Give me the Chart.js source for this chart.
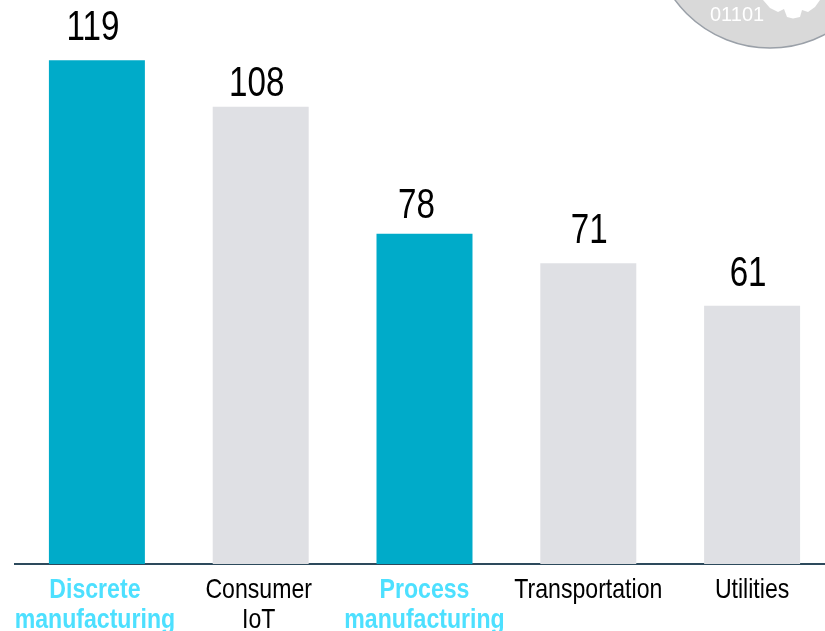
<!DOCTYPE html>
<html>
<head>
<meta charset="utf-8">
<style>
    html, body { margin: 0; padding: 0; background: #fff; overflow: hidden; }
    canvas { display: block; }
</style>
<script src="https://cdn.jsdelivr.net/npm/chart.js@4/dist/chart.umd.min.js"></script>
</head>
<body>
<canvas id="sectors" width="834" height="631"></canvas>
<script>
// Data
const categories = [["Discrete", "manufacturing"], ["Consumer", "IoT"], ["Process", "manufacturing"], ["Transportation"], ["Utilities"]];
const values = [119, 108, 78, 71, 61];
const highlighted = [true, false, true, false, false];
const badgeText = "01101";

// Style
const fontFamily = "'Liberation Sans', Arial, sans-serif";
const labelShiftX = [-4, -4, -8, 1, -4];
const labelShiftY = [-20, -11, -16, -20, -20];
const tickShiftX = [-2, -2, 0, 0, 0];
const gearOutline = [[763, 0], [770, 8], [778, 12], [784, 9], [787, 17], [793, 18.5], [800, 17], [802, 10], [808, 12], [815, 7], [820, 0]];

// Squeezed text, the source uses a condensed face
const drawNarrowText = (ctx, text, x, y, squeeze) => {
    ctx.save();
    ctx.translate(x, y);
    ctx.scale(squeeze, 1);
    ctx.fillText(text, 0, 0);
    ctx.restore();
}

// Plugins
const valueLabels = {
    id: "valueLabels",
    afterDatasetsDraw(chart) {
        const ctx = chart.ctx;
        ctx.save();
        ctx.fillStyle = "#000";
        ctx.font = "42px " + fontFamily;
        ctx.textAlign = "center";
        ctx.textBaseline = "alphabetic";
        chart.getDatasetMeta(0).data.forEach((bar, i) => {
            drawNarrowText(ctx, values[i], bar.x + labelShiftX[i], bar.y + labelShiftY[i], 0.79);
        });
        ctx.restore();
    }
};

const categoryLabels = {
    id: "categoryLabels",
    afterDraw(chart) {
        const ctx = chart.ctx;
        const xScale = chart.scales.x;
        ctx.save();
        ctx.textAlign = "center";
        ctx.textBaseline = "alphabetic";
        categories.forEach((lines, i) => {
            ctx.fillStyle = highlighted[i] ? "#4de0ff" : "#000";
            ctx.font = (highlighted[i] ? "bold " : "") + "28px " + fontFamily;
            lines.forEach((line, l) => {
                drawNarrowText(ctx, line, xScale.getPixelForTick(i) + tickShiftX[i], 598 + l * 30, 0.825);
            });
        });
        ctx.restore();
    }
};

const badge = {
    id: "badge",
    afterDraw(chart) {
        const ctx = chart.ctx;
        ctx.save();
        ctx.beginPath();
        ctx.arc(770, -70, 118, 0, Math.PI * 2);
        ctx.fillStyle = "#d9d9d9";
        ctx.fill();
        ctx.strokeStyle = "#9aa0a8";
        ctx.lineWidth = 1.5;
        ctx.stroke();

        // gear
        ctx.fillStyle = "#fff";
        ctx.beginPath();
        gearOutline.forEach(([x, y], i) => i ? ctx.lineTo(x, y) : ctx.moveTo(x, y));
        ctx.closePath();
        ctx.fill();

        ctx.fillStyle = "#fff";
        ctx.font = "20px " + fontFamily;
        ctx.textAlign = "left";
        ctx.textBaseline = "alphabetic";
        ctx.fillText(badgeText, 710, 21);
        ctx.restore();
    }
};

// Chart
new Chart(document.querySelector("#sectors"), {
    type: "bar",
    data: {
        labels: categories,
        datasets: [{
            data: values,
            backgroundColor: highlighted.map(h => h ? "#00abc9" : "#dfe0e4"),
            categoryPercentage: 1,
            barPercentage: 0.586
        }]
    },
    options: {
        responsive: false,
        animation: false,
        layout: { padding: { left: 15, right: 0, top: 0, bottom: 0 } },
        plugins: { legend: { display: false }, tooltip: { enabled: false } },
        scales: {
            x: {
                afterFit: scale => { scale.height = 67; },
                grid: { display: false, drawTicks: false },
                border: { display: true, color: "#2d4a5c", width: 2 },
                ticks: { display: false }
            },
            y: { display: false, min: 0, max: 133.2 }
        }
    },
    plugins: [valueLabels, categoryLabels, badge]
});
</script>
</body>
</html>
